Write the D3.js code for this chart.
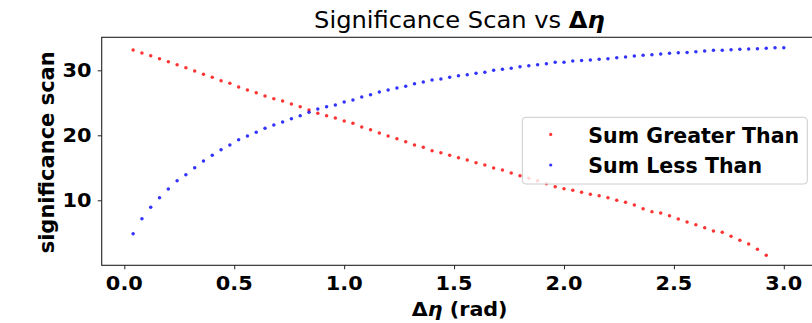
<!DOCTYPE html>
<html>
<head>
<meta charset="utf-8">
<script src="https://cdn.jsdelivr.net/npm/d3@7"></script>
<style>
  html, body { margin: 0; padding: 0; background: #fff; }
  svg { display: block; font-family: "DejaVu Sans", sans-serif; }
</style>
</head>
<body>
<svg id="chart" width="812" height="323"></svg>
<script>
const xTicks = [0.0, 0.5, 1.0, 1.5, 2.0, 2.5, 3.0];
const yTicks = [10, 20, 30];

const redX = [0.04,0.08,0.12,0.16,0.20,0.24,0.28,0.32,0.36,0.40,0.44,0.48,0.52,0.56,0.60,0.64,0.68,0.72,0.76,0.80,0.84,0.88,0.92,0.96,1.00,
  1.04,1.08,1.12,1.16,1.20,1.24,1.28,1.32,1.36,1.40,1.44,1.48,1.52,1.56,1.60,1.64,1.68,1.72,1.76,1.80,1.84,1.88,1.92,1.96,2.00,
  2.04,2.08,2.12,2.16,2.20,2.24,2.28,2.32,2.36,2.40,2.44,2.48,2.52,2.56,2.60,2.64,2.68,2.72,2.76,2.80,2.84,2.88,2.92];
const sumGreater = [33.12,32.66,32.25,31.79,31.33,30.87,30.40,29.90,29.38,28.92,28.40,28.00,27.43,26.97,26.56,26.05,25.64,25.28,24.80,24.40,23.90,23.38,23.02,22.68,22.20,
  21.84,21.28,20.87,20.35,19.89,19.48,19.02,18.51,18.15,17.64,17.33,16.92,16.56,16.20,15.79,15.43,14.97,14.66,14.20,13.79,13.38,13.02,12.56,12.10,11.79,
  11.53,11.23,10.92,10.71,10.40,9.99,9.69,9.28,8.71,8.25,8.05,7.64,7.12,6.66,6.25,5.79,5.28,5.07,4.46,3.84,3.28,2.46,1.53];

const blueX = [0.04,0.08,0.12,0.16,0.20,0.24,0.28,0.32,0.36,0.40,0.44,0.48,0.52,0.56,0.60,0.64,0.68,0.72,0.76,0.80,0.84,0.88,0.92,0.96,1.00,
  1.04,1.08,1.12,1.16,1.20,1.24,1.28,1.32,1.36,1.40,1.44,1.48,1.52,1.56,1.60,1.64,1.68,1.72,1.76,1.80,1.84,1.88,1.92,1.96,2.00,
  2.04,2.08,2.12,2.16,2.20,2.24,2.28,2.32,2.36,2.40,2.44,2.48,2.52,2.56,2.60,2.64,2.68,2.72,2.76,2.80,2.84,2.88,2.92,2.96,3.00];
const sumLess = [4.87,7.17,8.92,10.40,11.74,13.02,13.94,15.02,16.05,16.92,17.79,18.50,19.33,19.90,20.46,21.07,21.58,22.05,22.56,23.02,23.53,24.05,24.40,24.68,25.12,
  25.43,25.89,26.25,26.66,26.97,27.28,27.53,27.95,28.20,28.50,28.66,28.92,29.17,29.33,29.53,29.69,30.00,30.15,30.30,30.56,30.71,30.87,31.02,31.23,31.25,
  31.43,31.50,31.58,31.69,31.79,31.94,32.05,32.20,32.30,32.40,32.50,32.61,32.71,32.76,32.87,32.97,33.07,33.07,33.17,33.23,33.28,33.33,33.38,33.48,33.48];

const seriesNames = ["Sum Greater Than", "Sum Less Than"];
const seriesColors = ["#ff0000", "#0000ff"];

const svg = d3.select("#chart");
const L = 101.7, R = 817, T = 37.3, B = 265.3;

const x = d3.scaleLinear().domain([-0.103, 3.151]).range([L, R]);
const y = d3.scaleLinear().domain([0, 35.08]).range([B, T]);

function htext(parent, px, py, anchor, size, sx) {
  const g = parent.append("g")
    .attr("transform", `translate(${px},${py}) scale(${sx},1)`);
  const t = g.append("text")
    .attr("x", 0).attr("y", 0)
    .attr("text-anchor", anchor)
    .attr("font-size", size)
    .attr("fill", "#000");
  t.fit = function (targetW) {
    const w = t.node().getComputedTextLength();
    const k = targetW / w;
    g.attr("transform", `translate(${px},${py}) scale(${k},1)`);
    return k;
  };
  return t;
}

// markers
const series = [
  {name: seriesNames[0], color: seriesColors[0], xs: redX, ys: sumGreater},
  {name: seriesNames[1], color: seriesColors[1], xs: blueX, ys: sumLess}
];
series.forEach(s => {
  svg.append("g").selectAll("circle")
    .data(s.ys.map((v, i) => [s.xs[i], v]))
    .join("circle")
    .attr("cx", d => x(d[0]))
    .attr("cy", d => y(d[1]))
    .attr("r", 1.75)
    .attr("fill", s.color)
    .attr("fill-opacity", 0.8);
});

// axes frame
svg.append("rect")
  .attr("x", L).attr("y", T).attr("width", R - L).attr("height", B - T)
  .attr("fill", "none").attr("stroke", "#222").attr("stroke-width", 1.1);

// x axis
const xAxis = d3.axisBottom(x).tickValues(xTicks).tickFormat("").tickSizeOuter(0).tickSize(4);
const gx = svg.append("g").attr("transform", `translate(0,${B})`).call(xAxis);
gx.select(".domain").remove();
gx.selectAll("line").attr("stroke", "#222");
const fx = d3.format(".1f");
xTicks.forEach(t => {
  htext(svg, x(t), 290.3, "middle", 19.5, 1.07)
    .attr("font-weight", "bold").text(fx(t));
});

// y axis
const yAxis = d3.axisLeft(y).tickValues(yTicks).tickFormat("").tickSizeOuter(0).tickSize(4);
const gy = svg.append("g").attr("transform", `translate(${L},0)`).call(yAxis);
gy.select(".domain").remove();
gy.selectAll("line").attr("stroke", "#222");
yTicks.forEach(t => {
  htext(svg, 91.5, y(t) + 7, "end", 19.5, 1.07)
    .attr("font-weight", "bold").text(String(t));
});

// title
const title = htext(svg, 459.4, 28, "middle", 23, 1.05);
title.append("tspan").text("Significance Scan vs ");
title.append("tspan").attr("font-weight", "bold").text("Δ");
title.append("tspan").attr("font-weight", "bold").attr("font-style", "italic").text("η");

// x label
const xl = htext(svg, 459.7, 316, "middle", 19.5, 1.06).attr("font-weight", "bold");
xl.append("tspan").text("Δ");
xl.append("tspan").attr("font-style", "italic").text("η");
xl.append("tspan").text(" (rad)");

// y label
svg.append("text")
  .attr("transform", `translate(54,${(T + B) / 2 + 1}) rotate(-90)`)
  .attr("text-anchor", "middle").attr("font-size", 21).attr("font-weight", "bold").attr("fill", "#000")
  .text("significance scan");

// legend
const lg = svg.append("g");
lg.append("rect")
  .attr("x", 522.3).attr("y", 117.3).attr("width", 285).attr("height", 66.7)
  .attr("rx", 3.5).attr("ry", 3.5)
  .attr("fill", "#fff").attr("fill-opacity", 0.8)
  .attr("stroke", "#cccccc").attr("stroke-width", 1);
const legendTexts = [];
series.forEach((s, i) => {
  const cy = 134.4 + i * 30.6;
  lg.append("circle").attr("cx", 550.7).attr("cy", cy).attr("r", 1.6)
    .attr("fill", s.color).attr("fill-opacity", 0.8);
  const t = htext(lg, 588.3, cy + 8.2, "start", 20.5, 1.0)
    .attr("font-weight", "bold").text(s.name);
  legendTexts.push({t, cy});
});
// scale legend labels so the longest spans the same width as in the reference
const kLeg = legendTexts[0].t.fit(211);
legendTexts.forEach(({t, cy}) => {
  d3.select(t.node().parentNode).attr("transform", `translate(588.3,${cy + 8.2}) scale(${kLeg},1)`);
});
</script>
</body>
</html>
